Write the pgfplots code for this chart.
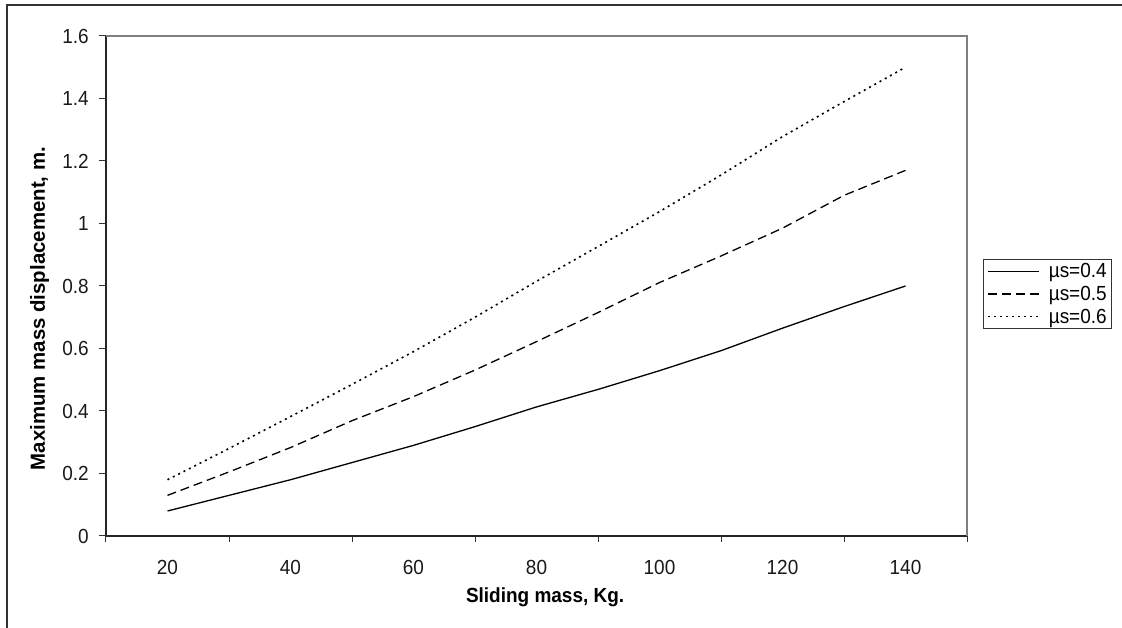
\documentclass[border=0pt]{standalone}
\usepackage{pgfplots}
\pgfplotsset{compat=1.18}
\usepackage{fontspec}
\setmainfont{Liberation Sans}[FakeStretch=0.93]
\newfontfamily\ylabfont{Liberation Sans}
\begin{document}
\begin{tikzpicture}[x=1pt,y=1pt]
\path[use as bounding box] (-106,-92) rectangle (1016,536);
\draw[line width=2pt, black!80] (-99,-100) -- (-99,531) -- (1030,531);
\begin{axis}[
  at={(0,0)}, anchor=origin,
  scale only axis, width=861pt, height=500pt,
  xmin=10, xmax=150, ymin=0, ymax=1.6,
  axis x line*=bottom, axis y line*=left,
  axis line style={black!85, line width=1.2pt},
  xtick={20,40,...,140},
  xticklabels={20,40,60,80,100,120,140},
  minor xtick={10,30,...,150},
  ytick={0,0.2,...,1.6},
  yticklabels={0,0.2,0.4,0.6,0.8,1,1.2,1.4,1.6},
  tick align=outside,
  major tick length=7pt, minor tick length=6pt,
  xtick style={draw=none},
  minor x tick style={draw=black!80, line width=1pt},
  ytick style={black!80, line width=1pt},
  /pgf/number format/assume math mode=true,
  tick label style={font=\fontsize{20.4}{23}\selectfont, text=black!90},
  xticklabel style={anchor=base, yshift=-32pt, inner sep=0pt},
  yticklabel style={anchor=east, xshift=-10pt, inner sep=0pt},
  xlabel={\bfseries Sliding mass, Kg.},
  ylabel={\ylabfont\bfseries Maximum mass displacement, m.},
  label style={font=\fontsize{20.4}{23}\selectfont},
  xlabel style={at={(axis description cs:0.51,-0.122)}, anchor=center},
  ylabel style={at={(axis description cs:-0.077,0.455)}, anchor=center, rotate=0},
  legend style={at={(axis description cs:1.0186,0.484)}, anchor=west,
    draw=black!80, line width=0.8pt, font=\fontsize{20.4}{23}\selectfont,
    inner xsep=4pt, inner ysep=3pt, row sep=5pt,
    nodes={inner sep=1pt}},
  legend cell align=left,
  legend image code/.code={\draw[#1, line width=1.2pt] (0pt,0pt) -- (51pt,0pt); \path (59pt,0pt);},
  clip=false,
]
\addplot[black, line width=1.3pt] coordinates {
(20,0.08) (30,0.13) (40,0.18) (50,0.235) (60,0.29) (70,0.35) (80,0.413)
(90,0.469) (100,0.529) (110,0.593) (120,0.665) (130,0.734) (140,0.80)};
\addlegendentry{µs=0.4}
\addplot[black, line width=1.3pt, dash pattern=on 9pt off 5pt] coordinates {
(20,0.13) (30,0.205) (40,0.283) (50,0.369) (60,0.446) (70,0.531) (80,0.622)
(90,0.715) (100,0.811) (110,0.896) (120,0.985) (130,1.09) (140,1.17)};
\addlegendentry{µs=0.5}
\addplot[black, line width=1.6pt, dash pattern=on 2pt off 4pt] coordinates {
(20,0.18) (30,0.28) (40,0.382) (50,0.485) (60,0.59) (70,0.70) (80,0.815)
(90,0.926) (100,1.038) (110,1.155) (120,1.278) (130,1.39) (140,1.50)};
\addlegendentry{µs=0.6}
\draw[black!50, line width=1.2pt] (rel axis cs:0,1) -- (rel axis cs:1,1) -- (rel axis cs:1,0);
\end{axis}
\end{tikzpicture}
\end{document}
